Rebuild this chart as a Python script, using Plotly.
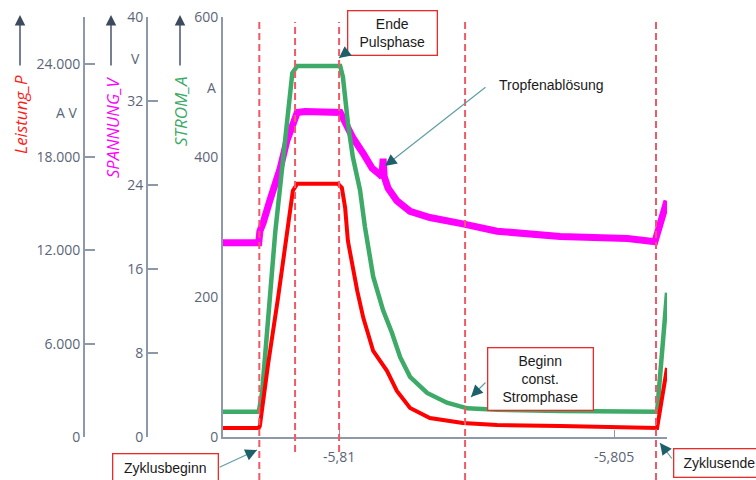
import math
import plotly.graph_objects as go

# ---------------- data ----------------
t_strom = [-5.81211, -5.81146, -5.81140, -5.81116, -5.81085, -5.81076, -5.80998,
           -5.80993, -5.80984, -5.80975, -5.80962, -5.80953, -5.80938, -5.80920,
           -5.80904, -5.80889, -5.80871, -5.80840, -5.80804, -5.80767, -5.80713,
           -5.80598, -5.80422, -5.80404]
strom_A = [36, 36, 63, 293, 520, 530, 530,
           514, 449, 400, 353, 300, 229, 181,
           149, 114, 86, 63, 49, 41, 39,
           37, 36, 206]

t_spannung = [-5.81211, -5.81146, -5.81144, -5.81138, -5.81126, -5.81107, -5.81095,
              -5.81085, -5.81076, -5.81062, -5.80998, -5.80993, -5.80975, -5.80956,
              -5.80940, -5.80926, -5.80922, -5.80920, -5.80918, -5.80911, -5.80895,
              -5.80871, -5.80835, -5.80775, -5.80713, -5.80598, -5.80476, -5.80426,
              -5.80422, -5.80404]
spannung_V = [18.5, 18.5, 19.6, 20.4, 22.5, 25.6, 28.2,
              29.9, 30.9, 31.0, 30.9, 30.4, 28.5, 27.0,
              25.6, 25.0, 24.8, 26.5, 24.8, 23.7, 22.5,
              21.5, 20.9, 20.3, 19.6, 19.1, 18.9, 18.6,
              19.4, 22.5]

t_leistung = [-5.81211, -5.81146, -5.81144, -5.81129, -5.81111, -5.81093, -5.81084,
              -5.81076, -5.81002, -5.80995, -5.80989, -5.80984, -5.80967, -5.80956,
              -5.80938, -5.80913, -5.80895, -5.80871, -5.80835, -5.80775, -5.80713,
              -5.80598, -5.80422, -5.80404]
leistung_P = [580, 580, 710, 4700, 8940, 13250, 15830,
              16280, 16280, 16020, 14730, 12610, 9390, 7660,
              5530, 4250, 2960, 1870, 1220, 900, 770,
              710, 580, 4440]

event_t = [-5.81145, -5.81080, -5.81000, -5.80771, -5.80424]

x_tickvals = [-5.81, -5.805]
x_ticktext = ["-5,81", "-5,805"]
strom_ticks = [0, 200, 400, 600]
strom_ticktext = ["0", "200", "400", "600"]
spannung_ticks = [0, 8, 16, 24, 32, 40]
spannung_ticktext = ["0", "8", "16", "24", "32", "40"]
leistung_ticks = [0, 6000, 12000, 18000, 24000]
leistung_ticktext = ["0", "6.000", "12.000", "18.000", "24.000"]

# ---------------- styling ----------------
W, H = 756, 480
AXIS = "#8d98aa"
LABEL = "#5a6578"
ARROW_LINE = "#5f9ea6"
ARROW_HEAD = "#1d6069"
FONT = "Open Sans"


def px(x):
    return x / W


def py(y):
    return 1 - y / H


fig = go.Figure()
fig.add_trace(go.Scatter(x=t_spannung, y=spannung_V, mode="lines", yaxis="y",
                         line=dict(color="#ff00ff", width=7), name="SPANNUNG_V"))
fig.add_trace(go.Scatter(x=t_strom, y=strom_A, mode="lines", yaxis="y2",
                         line=dict(color="#3daa68", width=4.5), name="STROM_A"))
fig.add_trace(go.Scatter(x=t_leistung, y=leistung_P, mode="lines", yaxis="y3",
                         line=dict(color="#ff0000", width=4), name="Leistung_P"))

ydom = [py(437), py(17)]
common = dict(showgrid=False, zeroline=False, showline=True, linecolor=AXIS,
              linewidth=2, tickfont=dict(family=FONT, size=14, color=LABEL),
              domain=ydom, tickmode="array", automargin=False)

fig.update_layout(
    template="none",
    width=W, height=H, margin=dict(l=0, r=0, t=0, b=0, pad=0, autoexpand=False),
    paper_bgcolor="white", plot_bgcolor="white", showlegend=False,
    font=dict(family=FONT, color=LABEL),
    xaxis=dict(domain=[px(223), px(667)], range=[-5.81211, -5.80404],
               anchor="y2", showgrid=False, zeroline=False, showline=True,
               linecolor=AXIS, linewidth=2, ticks="inside", ticklen=7,
               tickcolor=AXIS, tickvals=x_tickvals, ticktext=x_ticktext,
               tickfont=dict(family=FONT, size=14, color=LABEL),
               ticklabelstandoff=6, automargin=False),
    yaxis=dict(range=[0, 40], anchor="free", position=px(147), side="left",
               ticks="inside", ticklen=10, tickcolor=AXIS, tickwidth=1.5,
               tickvals=spannung_ticks, ticktext=spannung_ticktext, **common),
    yaxis2=dict(range=[0, 600], anchor="x", overlaying="y", side="left",
                ticks="", tickvals=strom_ticks, ticktext=strom_ticktext, **common),
    yaxis3=dict(range=[0, 27000], anchor="free", position=px(84),
                overlaying="y", side="left", ticks="inside", ticklen=10,
                tickcolor=AXIS, tickwidth=1.5, tickvals=leistung_ticks,
                ticktext=leistung_ticktext, **common),
)

# event markers (vertical dashed lines)
bottoms = [480, 452, 452, 480, 480]
for t, b in zip(event_t, bottoms):
    fig.add_shape(type="line", xref="x", yref="paper", x0=t, x1=t,
                  y0=py(b), y1=py(22),
                  line=dict(color="#f05a66", width=2, dash="7px,4px"))

ann = []
# axis titles (rotated) and up-arrows
for text, color, x, y, size in [("Leistung_P", "#ff1a1a", 20, 115, 17),
                                ("SPANNUNG_V", "#ff00ff", 112, 127, 16.5),
                                ("STROM_A", "#3daa68", 180, 112, 17)]:
    ann.append(dict(text="<i>%s</i>" % text, x=px(x), y=py(y), xref="paper",
                    yref="paper", textangle=-90, showarrow=False,
                    xanchor="center", yanchor="middle",
                    font=dict(family=FONT, size=size, color=color)))
for x in [20, 111, 180]:
    ann.append(dict(text="", x=px(x), y=py(15), xref="paper", yref="paper",
                    showarrow=True, ax=0, ay=52, arrowhead=2, arrowsize=1.5,
                    arrowwidth=1.4, arrowcolor="#3c4a5e"))
# units
for text, x, y in [("A V", 66, 112), ("V", 135, 58), ("A", 211, 87)]:
    ann.append(dict(text=text, x=px(x), y=py(y), xref="paper", yref="paper",
                    showarrow=False, xanchor="center", yanchor="middle",
                    font=dict(family=FONT, size=14, color=LABEL)))

# boxed notes
BOXFONT = dict(family="Liberation Sans, Arial", size=14, color="#1a1a1a")
for text, cx, cy, w, h in [("Ende<br>Pulsphase", 392, 33, 88, 43),
                           ("Beginn<br>const.<br>Stromphase", 540, 379, 104, 61),
                           ("Zyklusbeginn", 165, 468, 104, 28),
                           ("Zyklusende", 719, 463, 90, 27)]:
    ann.append(dict(text=text, x=px(cx), y=py(cy), xref="paper", yref="paper",
                    showarrow=False, width=w, height=h, borderpad=0,
                    xanchor="center", yanchor="middle",
                    bordercolor="#ec2a2a", borderwidth=1.3, bgcolor="white",
                    font=BOXFONT, align="center", valign="middle"))
ann.append(dict(text="Tropfenablösung", x=px(497), y=py(85), xref="paper",
                yref="paper", xanchor="left", yanchor="middle",
                showarrow=False, font=BOXFONT))

# pointer arrows: (tail x, tail y, tip x, tip y) -> light line + dark head
for sx, sy, tx, ty in [(348, 51, 339, 58), (487, 86, 385, 166),
                       (487, 381, 471, 397), (218, 468, 257, 450),
                       (673, 460, 660, 443)]:
    ann.append(dict(text="", x=px(tx), y=py(ty), xref="paper", yref="paper",
                    showarrow=True, ax=sx - tx, ay=sy - ty, arrowhead=0,
                    arrowwidth=1.2, arrowcolor=ARROW_LINE))
    d = math.hypot(sx - tx, sy - ty)
    k = 7 / d
    ann.append(dict(text="", x=px(tx), y=py(ty), xref="paper", yref="paper",
                    showarrow=True, ax=(sx - tx) * k, ay=(sy - ty) * k,
                    arrowhead=2, arrowsize=1.3, arrowwidth=1.8,
                    arrowcolor=ARROW_HEAD))

fig.update_layout(annotations=ann)
fig.write_html("out.html", config={"displayModeBar": False},
               post_script="document.body.style.margin='0';"
                           "document.body.style.overflow='hidden';")
